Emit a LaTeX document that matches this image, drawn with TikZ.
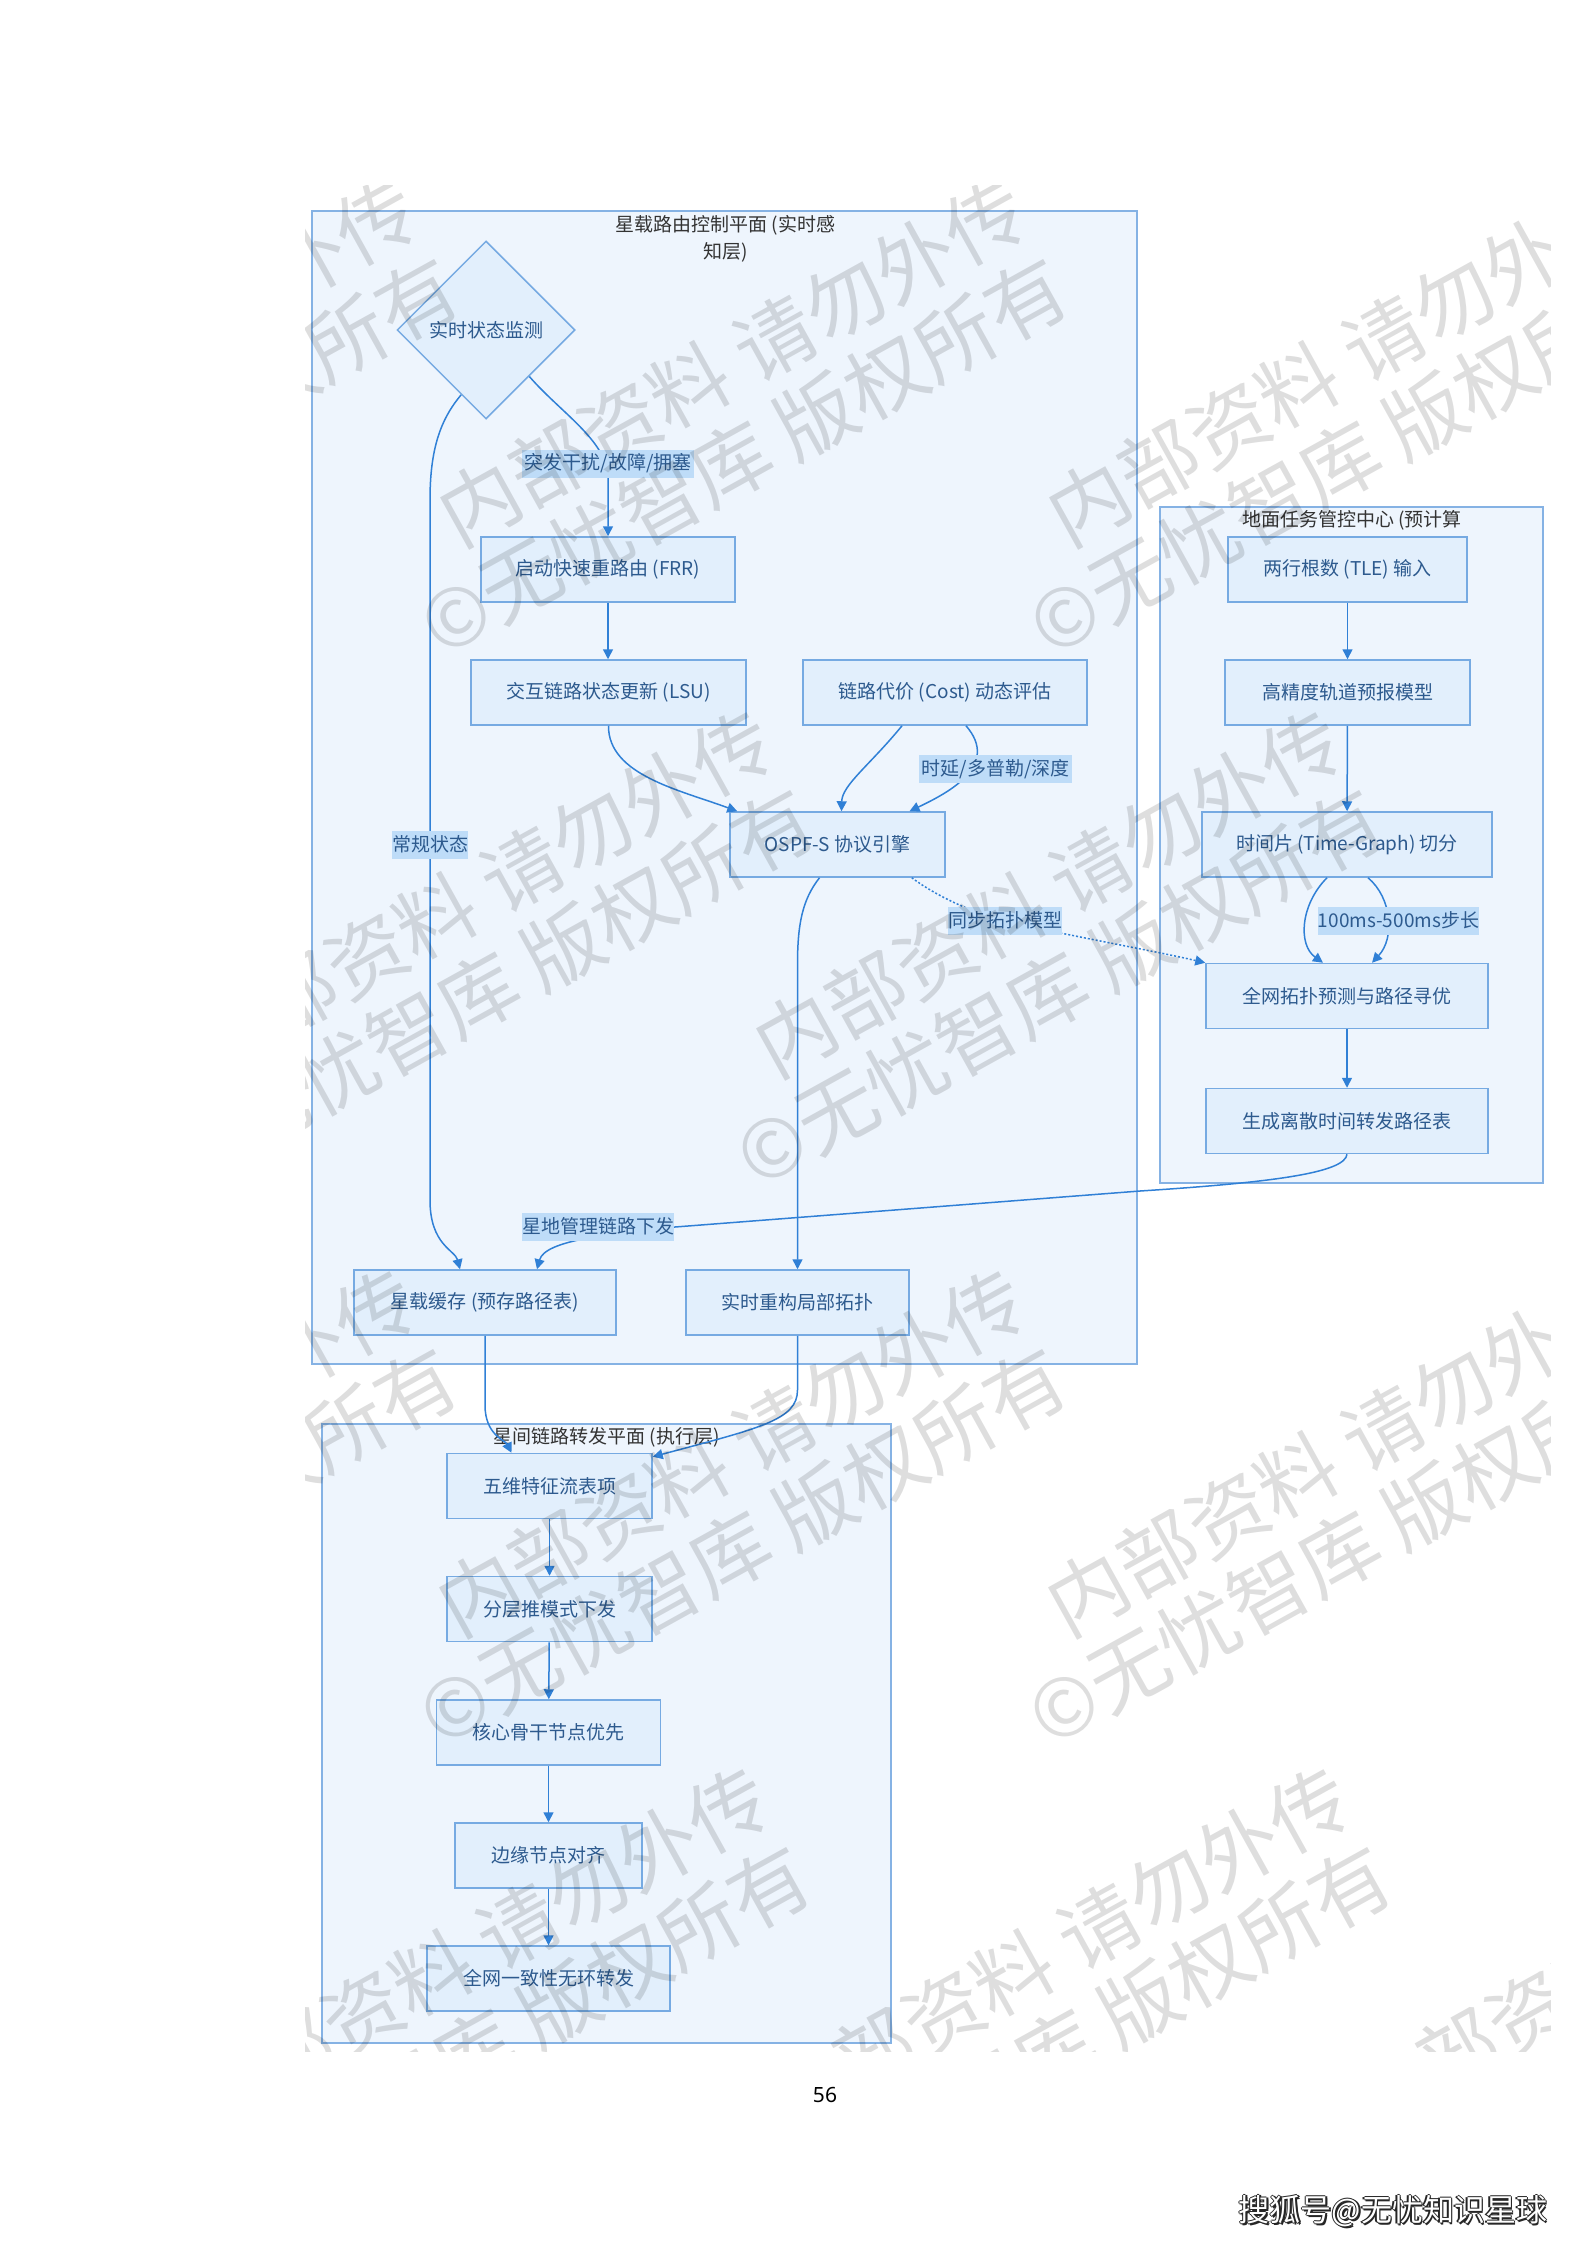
\documentclass[tikz,border=0pt]{standalone}
\usepackage{fontspec}
\setmainfont{Noto Sans CJK SC}
\newfontfamily\numfont{Noto Sans}
\usetikzlibrary{arrows.meta,shapes.geometric,calc}

\definecolor{clfill}{HTML}{EEF5FD}
\definecolor{cldraw}{HTML}{85B2E4}
\definecolor{ndfill}{HTML}{E2EFFC}
\definecolor{nddraw}{HTML}{76AAE2}
\definecolor{ndtext}{HTML}{2D5A8E}
\definecolor{edgec}{HTML}{3080D6}
\definecolor{lblfill}{HTML}{BEDCF8}
\definecolor{titletext}{HTML}{333333}

\newcommand{\nodefont}{\fontsize{19}{23}\selectfont}
\newcommand{\wmstamp}[3]{%
  \node[wm] (#1a) at (#2,#3) {内部资料 请勿外传};
  \node[wm] (#1b) at ($(#2,#3)+(12,94)$) {©无忧智库 版权所有};
}

\tikzset{
  cluster/.style={draw=cldraw, fill=clfill, line width=1.5pt},
  box/.style={draw=nddraw, fill=ndfill, line width=1.5pt, text=ndtext,
    font=\nodefont, minimum height=65pt, inner sep=0pt},
  decision/.style={diamond, draw=nddraw, fill=ndfill, line width=1.5pt,
    text=ndtext, font=\nodefont, minimum width=178pt, minimum height=178pt, inner sep=0pt},
  flow/.style={draw=edgec, line width=1.5pt, -{Triangle[length=10pt,width=10pt]}},
  lbl/.style={fill=lblfill, text=ndtext, font=\nodefont, inner sep=0pt, minimum height=28pt},
  ctitle/.style={text=titletext, font=\fontsize{19}{27}\selectfont, align=center, inner sep=0pt},
  wm/.style={rotate=29, text=black, text opacity=0.13, font=\fontsize{80}{96}\selectfont, inner sep=0pt},
}

\begin{document}
\begin{tikzpicture}[x=1pt, y=-1pt]
% page
\fill[white] (0,0) rectangle (1587,2245);
\path[use as bounding box] (0,0) rectangle (1587,2245);

% clusters
\draw[cluster] (312,211) rectangle (1137,1364);
\draw[cluster] (1160,507) rectangle (1543,1183);
\draw[cluster] (322,1424) rectangle (891,2043);

% cluster titles
\node[ctitle] (tctrl) at (725.5,239) {星载路由控制平面 (实时感\\知层)};
\node[ctitle] (tground) at (1352,520) {地面任务管控中心 (预计算};
\node[ctitle] (tfwd) at (606.5,1437) {星间链路转发平面 (执行层)};

% control plane nodes
\node[decision] (mon) at (486,330) {实时状态监测};
\node[box, minimum width=254pt] (frr) at (608,569.5) {启动快速重路由 (FRR)};
\node[box, minimum width=275pt] (lsu) at (608.5,692.5) {交互链路状态更新 (LSU)};
\node[box, minimum width=284pt] (cost) at (945,692.5) {链路代价 (Cost) 动态评估};
\node[box, minimum width=215pt] (ospf) at (837.5,844.5) {OSPF-S 协议引擎};
\node[box, minimum width=262pt] (cache) at (485,1302.5) {星载缓存 (预存路径表)};
\node[box, minimum width=223pt] (recon) at (797.5,1302.5) {实时重构局部拓扑};

% ground nodes
\node[box, minimum width=239pt] (tle) at (1347.5,569.5) {两行根数 (TLE) 输入};
\node[box, minimum width=245pt] (orbit) at (1347.5,692.5) {高精度轨道预报模型};
\node[box, minimum width=290pt] (tg) at (1347,844.5) {时间片 (Time-Graph) 切分};
\node[box, minimum width=282pt] (topo) at (1347,996) {全网拓扑预测与路径寻优};
\node[box, minimum width=282pt] (gen) at (1347,1121) {生成离散时间转发路径表};

% forwarding nodes
\node[box, minimum width=205pt] (wu) at (549.5,1486) {五维特征流表项};
\node[box, minimum width=205pt] (fen) at (549.5,1609) {分层推模式下发};
\node[box, minimum width=224pt] (core) at (548.5,1732.5) {核心骨干节点优先};
\node[box, minimum width=187pt] (edg) at (548.5,1855.5) {边缘节点对齐};
\node[box, minimum width=243pt] (cons) at (548.5,1978.5) {全网一致性无环转发};

% edges
\draw[flow] (mon.-47) .. controls (560,412) and (606,440) .. (608,476) -- (frr.north);
\draw[flow] (mon.-111) .. controls (440,420) and (430,450) .. (430,500) -- (430,1200)
  .. controls (430,1245) and (455,1250) .. ($(cache.north)+(-25,0)$);
\draw[flow] (frr.south) -- (frr.south |- lsu.north);
\draw[flow] (lsu.south) .. controls (608,775) and (680,790) .. ($(ospf.north west)+(8,0)$);
\draw[flow] ($(cost.south)+(-43,0)$) .. controls (870,765) and (842,785) .. ($(ospf.north)+(4,0)$);
\draw[flow] ($(cost.south)+(21,0)$) .. controls (1000,765) and (950,792) .. ($(ospf.north)+(72,0)$);
\draw[flow] ($(ospf.south)+(-18,0)$) .. controls (802,900) and (797.5,925) .. (797.5,965) -- (recon.north);
\draw[flow, dash pattern=on 2pt off 2pt] ($(ospf.south east)+(-34,0)$) .. controls (935,895) and (970,912) .. (1005,921)
  .. controls (1080,938) and (1150,950) .. (topo.north west);
\draw[flow] (tle) -- (orbit);
\draw[flow] (orbit) -- (tg);
\draw[flow] ($(tg.south)+(-20,0)$) .. controls (1300,905) and (1298,945) .. ($(topo.north)+(-24,0)$);
\draw[flow] ($(tg.south)+(21,0)$) .. controls (1392,898) and (1395,938) .. ($(topo.north)+(25,0)$);
\draw[flow] (topo) -- (gen);
\draw[flow] (gen.south) .. controls (1345,1172) and (1280,1182) .. (1140,1191) -- (675,1227)
  .. controls (610,1234) and (545,1240) .. ($(cache.north)+(52,0)$);
\draw[flow] (cache.south) -- (485,1405) .. controls (485,1435) and (505,1440) .. ($(wu.north)+(-38,0)$);
\draw[flow] (recon.south) -- (797.5,1390) .. controls (797.5,1420) and (760,1428) .. ($(wu.north east)+(0,4)$);
\draw[flow] (wu) -- (fen);
\draw[flow] (fen) -- (core);
\draw[flow] (core) -- (edg);
\draw[flow] (edg) -- (cons);

% edge labels
\node[lbl, minimum width=172pt] (l1) at (608,463.5) {突发干扰/故障/拥塞};
\node[lbl, minimum width=76pt] (l2) at (430,844.5) {常规状态};
\node[lbl, minimum width=153pt] (l3) at (995.5,769) {时延/多普勒/深度};
\node[lbl, minimum width=114pt] (l4) at (1005,920.5) {同步拓扑模型};
\node[lbl, minimum width=153pt] (l6) at (1398.5,920.5) {100ms-500ms步长};
\node[lbl, minimum width=152pt] (l5) at (598,1226.5) {星地管理链路下发};

% watermark
\begin{scope}
\clip (305,186) rectangle (1550,2051);
\wmstamp{wa}{123}{362}
\wmstamp{wb}{732}{362}
\wmstamp{wc}{1341}{362}
\wmstamp{we}{479}{893}
\wmstamp{wf}{1048}{893}
\wmstamp{wg}{122}{1452}
\wmstamp{wh}{731}{1452}
\wmstamp{wi}{1340}{1452}
\wmstamp{wj}{475}{1950}
\wmstamp{wk}{1056}{1950}
\wmstamp{wl}{1640}{1950}
\end{scope}

% page number
\node[font=\numfont\fontsize{21}{25}\selectfont, text=black] (pagenum) at (825,2095) {56};

% site mark
\foreach \dx/\dy [count=\i] in {-1.2/0, 1.2/0, 0/-1.2, 0/1.2, 1.8/1.8}
  \node[font=\fontsize{31}{36}\selectfont, text=black!85] (sh\i) at (1393+\dx,2211+\dy) {搜狐号@无忧知识星球};
\node[font=\fontsize{31}{36}\selectfont, text=white] (sohu) at (1393,2211) {搜狐号@无忧知识星球};
\end{tikzpicture}
\end{document}
